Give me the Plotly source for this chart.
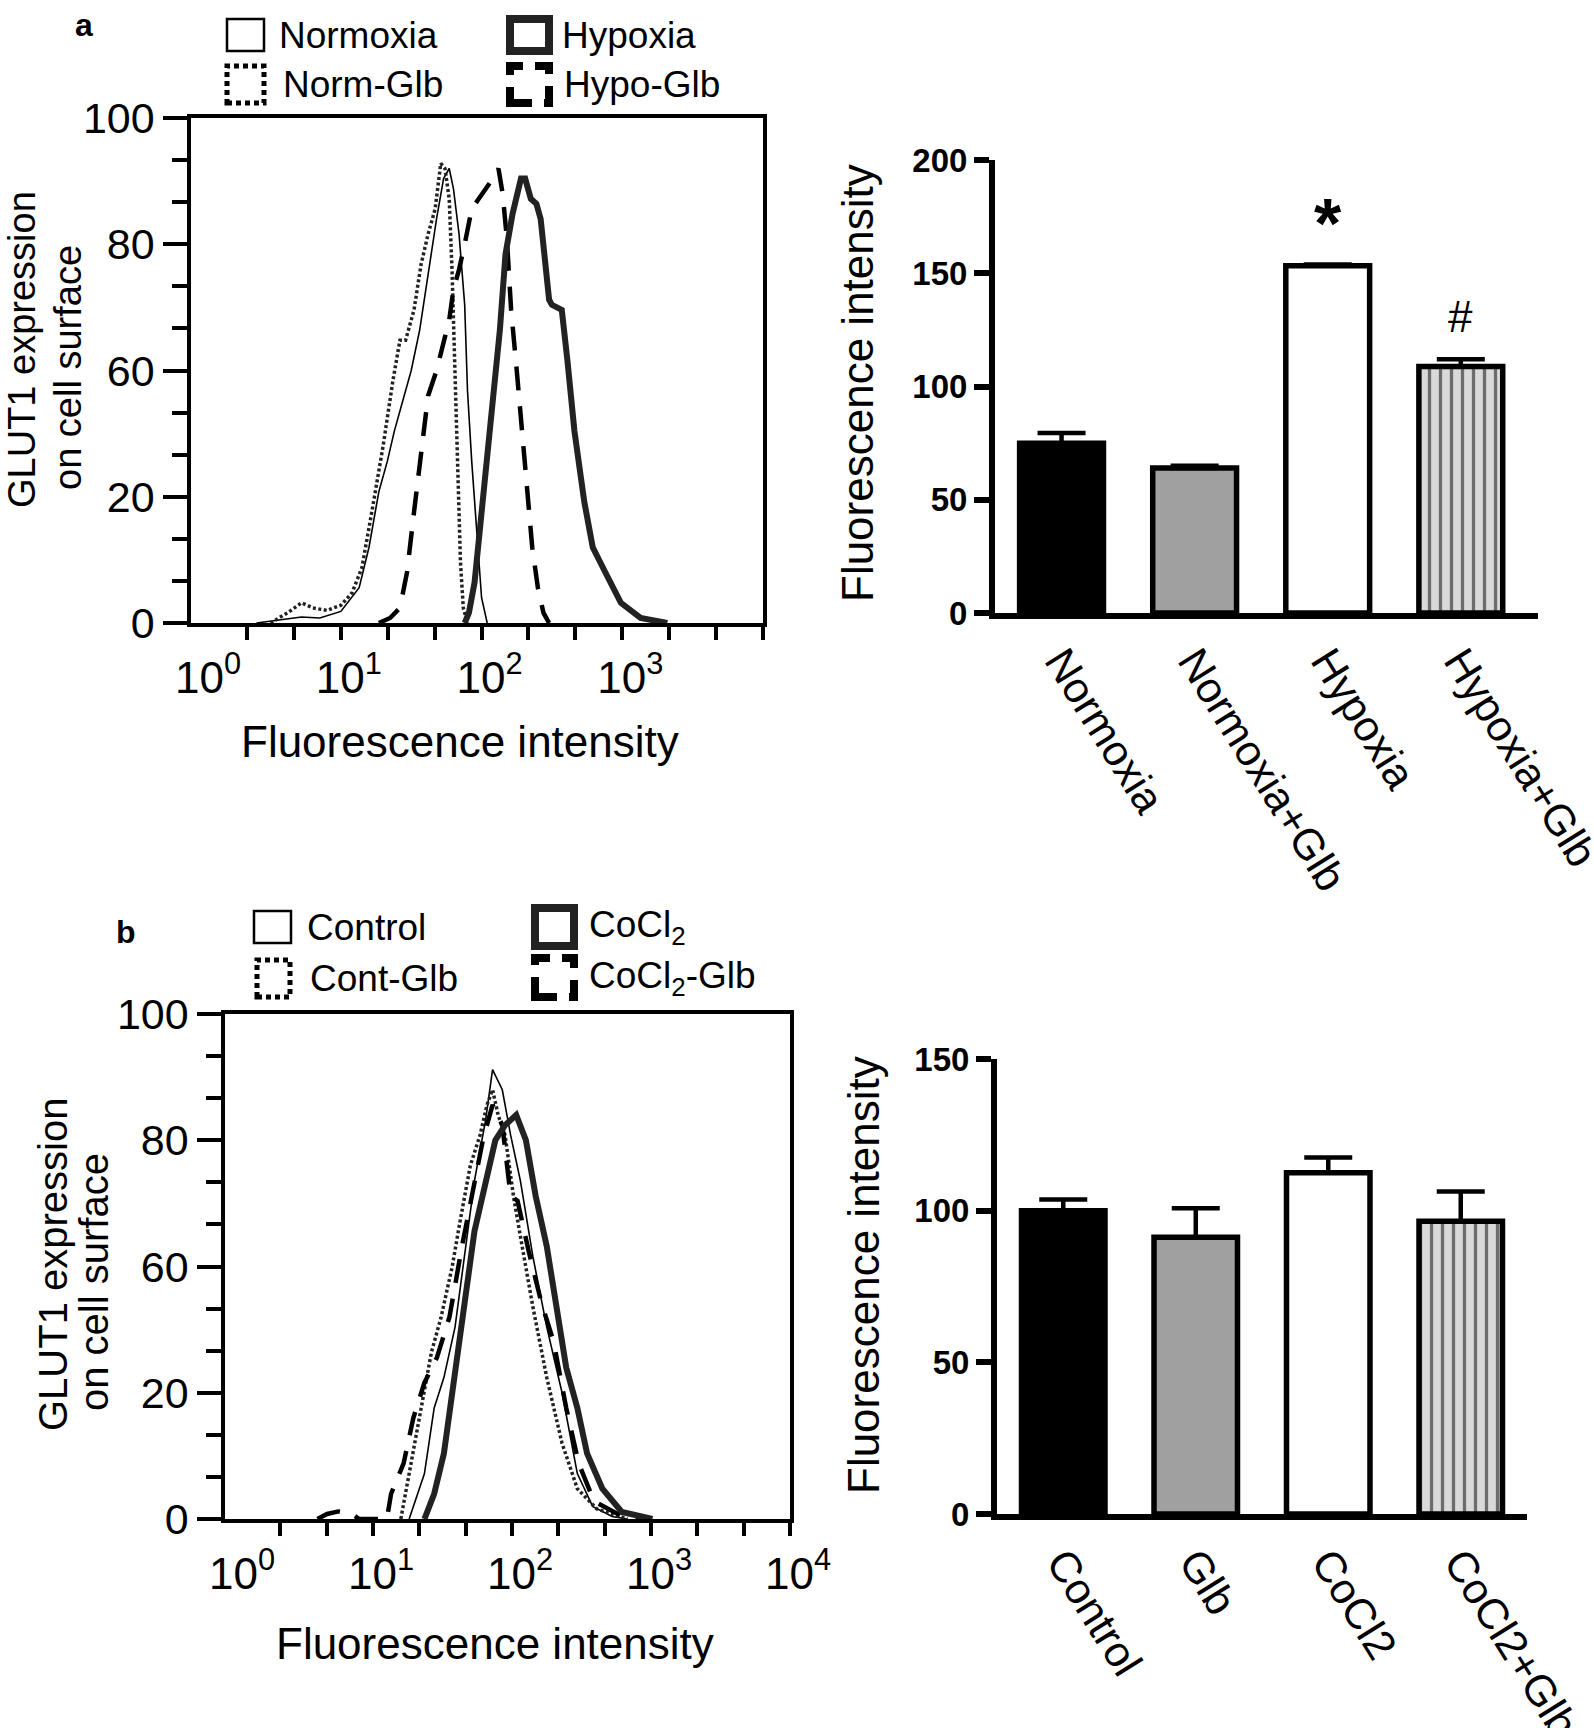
import numpy as np
import plotly.graph_objects as go

W, H = 1594, 1728

# ---------------- data ----------------
# Panel a histograms: x = log10(fluorescence intensity), y = counts (axis units)
normoxia_log10 = [0.40, 0.60, 0.72, 0.85, 1.00, 1.13, 1.20, 1.27, 1.33, 1.38, 1.44, 1.50, 1.56,
                  1.62, 1.68, 1.73, 1.77, 1.80, 1.84, 1.88, 1.90, 1.93, 1.97, 2.00, 2.04]
normoxia_y = [0, 0.8, 1.2, 1.0, 2.3, 7, 15, 26, 32, 38, 44, 50, 58,
              69, 80, 88, 90, 86, 77, 63, 46, 32, 17, 5, 0]

normglb_log10 = [0.50, 0.62, 0.72, 0.80, 0.90, 1.00, 1.08, 1.15, 1.22, 1.30, 1.37, 1.42, 1.46,
                 1.52, 1.57, 1.62, 1.67, 1.71, 1.74, 1.77, 1.79, 1.81, 1.83, 1.85, 1.87, 1.90]
normglb_y = [0, 2, 4, 3, 2.5, 3.5, 6, 11, 22, 35, 48, 56, 56,
             62, 71, 77, 82, 91, 90, 84, 70, 50, 30, 12, 3, 0]

hypoglb_log10 = [1.27, 1.35, 1.42, 1.47, 1.52, 1.57, 1.62, 1.68, 1.73, 1.77, 1.80, 1.84, 1.88,
                 1.93, 1.98, 2.03, 2.08, 2.12, 2.15, 2.18, 2.21, 2.25, 2.28, 2.32, 2.36, 2.40,
                 2.44, 2.48]
hypoglb_y = [0, 1, 3, 10, 22, 34, 45, 50, 56, 60, 66, 70, 75,
             82, 84, 86, 88, 90, 85, 76, 62, 50, 40, 27, 15, 7,
             2, 0]

hypoxia_log10 = [1.88, 1.91, 1.95, 2.00, 2.075, 2.13, 2.17, 2.22, 2.28, 2.31, 2.35, 2.39, 2.42,
                 2.48, 2.50, 2.57, 2.61, 2.66, 2.73, 2.79, 2.88, 2.99, 3.13, 3.32]
hypoxia_y = [0, 2, 8, 22, 42, 58, 73, 81, 88, 88, 84, 83, 80,
             64, 63, 62, 52, 38, 24, 15, 10, 4, 1, 0]

# Panel b histograms
control_log10 = [1.26, 1.37, 1.44, 1.51, 1.59, 1.66, 1.73, 1.81, 1.86, 1.93, 1.99, 2.06, 2.15,
                 2.25, 2.36, 2.47, 2.58, 2.72, 2.83]
control_y = [0, 9, 22, 28, 38, 52, 67, 79, 89, 85, 76, 67, 52,
             38, 25, 9, 2.5, 0.5, 0]

contglb_log10 = [1.20, 1.26, 1.33, 1.42, 1.49, 1.57, 1.62, 1.70, 1.77, 1.82, 1.86, 1.90, 1.95,
                 2.01, 2.06, 2.15, 2.25, 2.36, 2.47, 2.61, 2.83]
contglb_y = [0, 9, 20, 33, 40, 50, 58, 70, 76, 82, 85, 80, 76,
             64, 56, 42, 28, 15, 6, 2, 0]

cocl2_log10 = [1.37, 1.44, 1.51, 1.59, 1.66, 1.73, 1.81, 1.88, 1.95, 2.03, 2.10, 2.17, 2.25,
               2.32, 2.39, 2.47, 2.54, 2.65, 2.79, 3.01]
cocl2_y = [0, 5, 13, 30, 43, 57, 67, 75, 78, 80, 75, 64, 54,
           42, 30, 22, 13, 6, 1.4, 0]

cocl2glb_log10 = [0.60, 0.67, 0.75, 0.85, 0.90, 1.10, 1.13, 1.22, 1.29, 1.37, 1.46, 1.55, 1.64,
                  1.71, 1.79, 1.86, 1.93, 1.99, 2.04, 2.12, 2.21, 2.30, 2.39, 2.48, 2.59,
                  2.76, 2.94]
cocl2glb_y = [0, 1, 1.5, 1, 0, 0, 5, 11, 20, 27, 32, 40, 54,
              64, 75, 82, 78, 64, 63, 53, 43, 35, 22, 11, 3.5,
              1, 0]

# histogram y tick labels (as printed in the original)
hist_y_tickvals = [0, 25, 50, 75, 100]
hist_y_ticktext = ["0", "20", "60", "80", "100"]

# Bar charts
bar_a_categories = ["Normoxia", "Normoxia+Glb", "Hypoxia", "Hypoxia+Glb"]
bar_a_values = [75.0, 64.0, 153.3, 108.8]
bar_a_errors = [4.5, 1.0, 0.6, 3.2]
bar_a_marks = ["", "", "*", "#"]
bar_a_mark_y = [0, 0, 178, 131]

bar_b_categories = ["Control", "Glb", "CoCl2", "CoCl2+Glb"]
bar_b_values = [100.0, 91.2, 112.5, 96.5]
bar_b_errors = [3.7, 9.6, 5.0, 9.8]

legend_a_labels = ["Normoxia", "Hypoxia", "Norm-Glb", "Hypo-Glb"]
legend_b_labels = ["Control", "CoCl<sub>2</sub>", "Cont-Glb", "CoCl<sub>2</sub>-Glb"]

# ---------------- styles ----------------
FONT = "Liberation Sans, Arial, Helvetica, sans-serif"
bar_colors = ["#000000", "#a0a0a0", "#ffffff", "#d9d9d9"]
bar_patterns = ["", "", "", "|"]

line_styles = [
    dict(color="black", width=1.6),                       # thin solid
    dict(color="#222222", width=3.5, dash="3px,2.5px"),   # dotted
    dict(color="black", width=4.5, dash="24px,16px"),     # dashed
    dict(color="#222222", width=6),                       # thick solid
]
legend_line_styles = [
    dict(color="black", width=2.5),
    dict(color="#222222", width=8),
    dict(color="black", width=5, dash="5px,4px"),
    dict(color="black", width=8, dash="22px,12px"),
]


def px(p):
    return p / W


def py(p):
    return 1 - p / H


fig = go.Figure()

# histogram traces
hist_a = [(normoxia_log10, normoxia_y), (normglb_log10, normglb_y),
          (hypoglb_log10, hypoglb_y), (hypoxia_log10, hypoxia_y)]
hist_b = [(control_log10, control_y), (contglb_log10, contglb_y),
          (cocl2glb_log10, cocl2glb_y), (cocl2_log10, cocl2_y)]
for (lx, yy), st in zip(hist_a, line_styles):
    fig.add_trace(go.Scatter(x=10 ** np.array(lx), y=yy, mode="lines", line=st,
                             xaxis="x", yaxis="y", showlegend=False, hoverinfo="skip"))
for (lx, yy), st in zip(hist_b, line_styles):
    fig.add_trace(go.Scatter(x=10 ** np.array(lx), y=yy, mode="lines", line=st,
                             xaxis="x3", yaxis="y3", showlegend=False, hoverinfo="skip"))


def add_bars(cats, vals, errs, xa, ya):
    for c, v, e, col, pat in zip(cats, vals, errs, bar_colors, bar_patterns):
        marker = dict(color=col, line=dict(color="black", width=5.5))
        if pat:
            marker["pattern"] = dict(shape=pat, fgcolor="black", bgcolor=col, size=11,
                                     solidity=0.3, fillmode="overlay")
        fig.add_trace(go.Bar(x=[c], y=[v], width=0.63, marker=marker,
                             error_y=dict(type="data", symmetric=False, array=[e], arrayminus=[0],
                                          color="black", thickness=4.5, width=24),
                             xaxis=xa, yaxis=ya, showlegend=False, hoverinfo="skip"))


add_bars(bar_a_categories, bar_a_values, bar_a_errors, "x2", "y2")
add_bars(bar_b_categories, bar_b_values, bar_b_errors, "x4", "y4")


def hist_xaxis(dom, anchor, max_label_decade):
    dec = list(range(max_label_decade + 1))
    return dict(domain=dom, anchor=anchor, type="log", range=[-0.065, 4.0], automargin=False,
                showline=True, linewidth=3.5, linecolor="black", mirror=True,
                ticks="outside", ticklen=13, tickwidth=3.5, tickcolor="rgba(0,0,0,0)",
                tickvals=[10 ** k for k in dec], ticktext=[f"10<sup>{k}</sup>" for k in dec],
                tickfont=dict(size=44, color="black", family=FONT), ticklabelshift=8,
                minor=dict(ticks="outside", ticklen=13, tickwidth=3.5, tickcolor="black",
                           tickvals=[10 ** (k / 3) for k in range(1, 13)]),
                showgrid=False, zeroline=False)


def hist_yaxis(dom, anchor):
    return dict(domain=dom, anchor=anchor, range=[0, 100], automargin=False,
                showline=True, linewidth=3.5, linecolor="black", mirror=True,
                ticks="outside", ticklen=24, tickwidth=4, tickcolor="black",
                tickvals=hist_y_tickvals, ticktext=hist_y_ticktext,
                tickfont=dict(size=43, color="black", family=FONT),
                minor=dict(ticks="outside", ticklen=15, tickwidth=4, tickcolor="black",
                           tickvals=[k * 25 / 3 for k in range(13) if k % 3]),
                showgrid=False, zeroline=False)


def bar_xaxis(dom, anchor, cats, right):
    return dict(domain=dom, anchor=anchor, type="category", categoryorder="array",
                categoryarray=cats, range=[-0.5, right], automargin=False,
                showline=True, linewidth=6, linecolor="black", ticks="",
                tickangle=58, tickfont=dict(size=43, color="black", family=FONT),
                showgrid=False, zeroline=False)


def bar_yaxis(dom, anchor, top, step):
    return dict(domain=dom, anchor=anchor, range=[0, top], automargin=False,
                tickvals=list(range(0, top + 1, step)),
                showline=True, linewidth=6, linecolor="black",
                ticks="outside", ticklen=15, tickwidth=6, tickcolor="black",
                tickfont=dict(size=33, color="black", weight="bold", family=FONT),
                showgrid=False, zeroline=False)


fig.update_layout(
    template="none",
    width=W, height=H, margin=dict(l=0, r=0, t=0, b=0, autoexpand=False),
    paper_bgcolor="white", plot_bgcolor="white",
    font=dict(family=FONT, color="black"),
    barmode="overlay", showlegend=False,
    xaxis=hist_xaxis([px(191), px(763)], "y", 3),
    yaxis=hist_yaxis([py(623), py(118)], "x"),
    xaxis2=bar_xaxis([px(995), px(1538)], "y2", bar_a_categories, 3.58),
    yaxis2=bar_yaxis([py(613), py(160)], "x2", 200, 50),
    xaxis3=hist_xaxis([px(225), px(790)], "y3", 4),
    yaxis3=hist_yaxis([py(1519), py(1014)], "x3"),
    xaxis4=bar_xaxis([px(997), px(1527)], "y4", bar_b_categories, 3.5),
    yaxis4=bar_yaxis([py(1514), py(1059)], "x4", 150, 50),
)

ann = []


def paper_text(text, x, y, size, angle=0, bold=False, xanchor="center"):
    ann.append(dict(text=text, x=px(x), y=py(y), xref="paper", yref="paper",
                    xanchor=xanchor, yanchor="middle", textangle=angle, showarrow=False,
                    font=dict(size=size, color="black", family=FONT,
                              weight="bold" if bold else "normal")))


# panel letters
paper_text("a", 84, 25, 32, bold=True)
paper_text("b", 126, 932, 32, bold=True)
# axis titles
paper_text("GLUT1 expression", 22, 350, 38, angle=-90)
paper_text("on cell surface", 68, 368, 38, angle=-90)
paper_text("Fluorescence intensity", 460, 741, 44)
paper_text("Fluorescence intensity", 858, 383, 44, angle=-90)
paper_text("GLUT1 expression", 53, 1265, 40, angle=-90)
paper_text("on cell surface", 94, 1282, 40, angle=-90)
paper_text("Fluorescence intensity", 495, 1643, 44)
paper_text("Fluorescence intensity", 863, 1275, 44, angle=-90)

# significance marks
for c, m, yv in zip(bar_a_categories, bar_a_marks, bar_a_mark_y):
    if m:
        ann.append(dict(text=m, x=c, y=yv, xref="x2", yref="y2", showarrow=False,
                        xanchor="center", yanchor="middle",
                        yshift=-14 if m == "*" else 0,
                        font=dict(size=70 if m == "*" else 44, color="black", family=FONT,
                                  weight="bold" if m == "*" else "normal")))

# custom legends (box symbols + labels)
shapes = []
leg_a_boxes = [(227, 19, 264, 51), (510, 19, 549, 51), (227, 66, 264, 103), (510, 66, 549, 103)]
leg_a_text = [(277, 35), (560, 35), (281, 85), (562, 85)]
leg_b_boxes = [(254, 911, 291, 943), (535, 908, 574, 946), (257, 960, 290, 997), (535, 958, 574, 997)]
leg_b_text = [(305, 927), (587, 927), (308, 978), (587, 978)]
for boxes, texts, labels in [(leg_a_boxes, leg_a_text, legend_a_labels),
                             (leg_b_boxes, leg_b_text, legend_b_labels)]:
    for (x0, y0, x1, y1), (tx, ty), lab, st in zip(boxes, texts, labels, legend_line_styles):
        shapes.append(dict(type="rect", xref="paper", yref="paper",
                           x0=px(x0), x1=px(x1), y0=py(y1), y1=py(y0),
                           line=st, fillcolor="rgba(0,0,0,0)"))
        paper_text(lab, tx, ty, 37, xanchor="left")

fig.update_layout(annotations=ann, shapes=shapes)

fig.write_html("out.html", config={"displayModeBar": False},
               post_script="document.body.style.margin='0';document.body.style.overflow='hidden';")
